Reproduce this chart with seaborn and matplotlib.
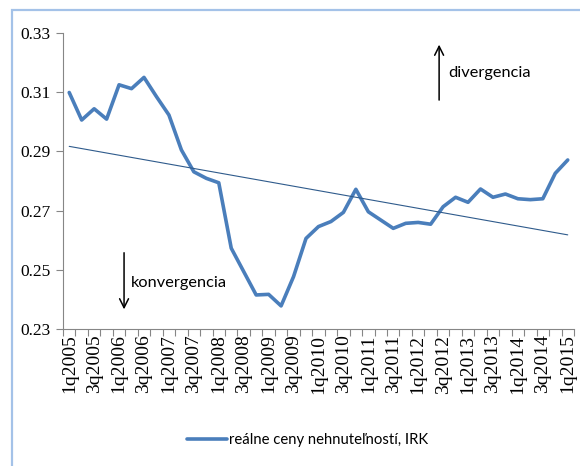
import numpy as np
import pandas as pd
import matplotlib
matplotlib.use("Agg")
import matplotlib.pyplot as plt
import seaborn as sns
from matplotlib.patches import Rectangle

# quarterly labels 1q2005 .. 1q2015
quarters = [f"{q}q{y}" for y in range(2005, 2016) for q in range(1, 5)][:41]

values = [0.3099, 0.3006, 0.3044, 0.3009, 0.3125, 0.3112, 0.3150, 0.3085,
          0.3023, 0.2905, 0.2831, 0.2809, 0.2794, 0.2573, 0.2494, 0.2415,
          0.2417, 0.2378, 0.2477, 0.2606, 0.2646, 0.2663, 0.2694, 0.2772,
          0.2696, 0.2668, 0.2640, 0.2657, 0.2660, 0.2654, 0.2713, 0.2745,
          0.2728, 0.2773, 0.2745, 0.2756, 0.2740, 0.2737, 0.2740, 0.2826,
          0.2871]

# linear trend, value at first and last quarter
trend_ends = [0.2917, 0.2618]

series_name = "reálne ceny nehnuteľností, IRK"

df = pd.DataFrame({"idx": np.arange(len(values)), "value": values})
trend = pd.DataFrame({"idx": [0, len(values) - 1], "value": trend_ends})

sns.set_theme(style="white")
plt.rcParams["font.family"] = ["Liberation Serif", "DejaVu Serif"]
plt.rcParams["text.color"] = "black"
plt.rcParams["xtick.color"] = "black"
plt.rcParams["ytick.color"] = "black"

fig = plt.figure(figsize=(5.8, 4.66), dpi=100)
ax = fig.add_axes([0.1086, 0.294, 0.881, 0.6352])

line_color = "#4a7ebb"
sns.lineplot(data=df, x="idx", y="value", ax=ax, color=line_color,
             linewidth=2.6, label=series_name, legend=False)
sns.lineplot(data=trend, x="idx", y="value", ax=ax, color="#2f5b8c",
             linewidth=0.8, legend=False)

ax.set_xlim(-0.5, len(values) - 0.5)
ax.set_ylim(0.23, 0.33)
ax.set_yticks(np.arange(0.23, 0.331, 0.02))
ax.set_yticklabels([f"{v:.2f}" for v in np.arange(0.23, 0.331, 0.02)], fontsize=12.5)

# tick marks between categories, labels on every second quarter
ax.set_xticks(np.arange(-0.5, len(values), 1))
ax.set_xticklabels([])
ax.set_xticks(np.arange(0, len(values), 2), minor=True)
ax.set_xticklabels(quarters[::2], minor=True, rotation=90, fontsize=14)
ax.tick_params(axis="x", which="major", length=5, width=0.8, color="#868686", direction="out", bottom=True)
ax.tick_params(axis="x", which="minor", length=0, pad=4, bottom=True)
ax.tick_params(axis="y", length=5, width=0.8, color="#868686", direction="out", left=True, pad=4)

ax.set_xlabel("")
ax.set_ylabel("")
for s in ["top", "right"]:
    ax.spines[s].set_visible(False)
for s in ["left", "bottom"]:
    ax.spines[s].set_color("#868686")
    ax.spines[s].set_linewidth(0.8)

sans = ["Lato", "DejaVu Sans"]
ax.annotate("", xy=(4.4, 0.2357), xytext=(4.4, 0.2567),
            arrowprops=dict(arrowstyle="->", color="black", lw=1.1, mutation_scale=16))
ax.text(4.96, 0.2455, "konvergencia", family=sans, fontsize=11.8, va="center", ha="left")
ax.annotate("", xy=(29.68, 0.327), xytext=(29.68, 0.3064),
            arrowprops=dict(arrowstyle="->", color="black", lw=1.1, mutation_scale=16))
ax.text(30.4, 0.3165, "divergencia", family=sans, fontsize=11.8, va="center", ha="left")

handles, labels = ax.get_legend_handles_labels()
fig.legend(handles[:1], labels[:1], loc="center left", bbox_to_anchor=(0.322, 0.056),
           frameon=False, prop={"family": sans, "size": 10.7},
           handlelength=2.7, handletextpad=0.15, borderpad=0, borderaxespad=0)

fig.patches.append(Rectangle((0.0207, -0.05), 1.2, 0.9785 + 0.05,
                             transform=fig.transFigure, fill=False,
                             edgecolor="#a4c2e8", linewidth=1.6))

fig.savefig("out.png", dpi=100)
